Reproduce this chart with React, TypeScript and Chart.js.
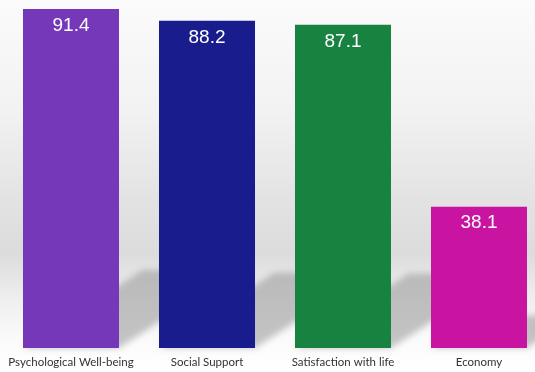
import React, { useEffect, useRef } from "react";
import { Chart, registerables } from "chart.js";

Chart.register(...registerables);

const categories = [
  "Psychological Well-being",
  "Social Support",
  "Satisfaction with life",
  "Economy",
];
const scores = [91.4, 88.2, 87.1, 38.1];
const barColors = ["#7438b8", "#181c8c", "#188240", "#c814a0"];

// Soft studio-style backdrop behind the plot
const backdropPlugin = {
  id: "backdrop",
  beforeDraw(chart: any) {
    const { ctx, width, height } = chart;
    const g = ctx.createLinearGradient(0, 0, 0, height);
    g.addColorStop(0, "#fbfbfb");
    g.addColorStop(0.3, "#f2f2f2");
    g.addColorStop(0.55, "#e2e2e2");
    g.addColorStop(0.68, "#dcdcdc");
    g.addColorStop(0.8, "#eeeeee");
    g.addColorStop(0.92, "#fbfbfb");
    g.addColorStop(1, "#ffffff");
    ctx.save();
    ctx.fillStyle = g;
    ctx.fillRect(0, 0, width, height);
    ctx.restore();
  },
};

// Oblique cast shadow of each bar onto the floor
const castShadowPlugin = {
  id: "castShadow",
  beforeDatasetsDraw(chart: any) {
    const { ctx } = chart;
    const meta = chart.getDatasetMeta(0);
    ctx.save();
    ctx.filter = "blur(3px)";
    ctx.fillStyle = "rgba(150,150,150,0.55)";
    meta.data.forEach((bar: any) => {
      const h = bar.base - bar.y;
      const dy = h * 0.23;
      const dx = dy * 1.53;
      const L = bar.x - bar.width / 2;
      const R = bar.x + bar.width / 2;
      const B = bar.base;
      ctx.beginPath();
      ctx.moveTo(L, B);
      ctx.lineTo(R, B);
      ctx.lineTo(R + dx, B - dy);
      ctx.lineTo(L + dx, B - dy);
      ctx.closePath();
      ctx.fill();
    });
    ctx.restore();
  },
};

// White value labels just inside the top of each bar
const valueLabelPlugin = {
  id: "valueLabels",
  afterDatasetsDraw(chart: any) {
    const { ctx } = chart;
    const meta = chart.getDatasetMeta(0);
    const values = chart.data.datasets[0].data;
    ctx.save();
    ctx.fillStyle = "#ffffff";
    ctx.font = "19px 'Liberation Sans', Arial, sans-serif";
    ctx.textAlign = "center";
    ctx.textBaseline = "middle";
    meta.data.forEach((bar: any, i: number) => {
      ctx.fillText(values[i].toFixed(1), bar.x, bar.y + 16.5);
    });
    ctx.restore();
  },
};

export default function App() {
  const canvasRef = useRef<HTMLCanvasElement | null>(null);

  useEffect(() => {
    if (!canvasRef.current) return;
    const chart = new Chart(canvasRef.current, {
      type: "bar",
      data: {
        labels: categories,
        datasets: [
          {
            data: scores,
            backgroundColor: barColors,
            borderWidth: 0,
            barPercentage: 0.706,
            categoryPercentage: 1,
          },
        ],
      },
      options: {
        animation: false,
        responsive: false,
        maintainAspectRatio: false,
        layout: { padding: { left: 3, right: 13, top: 0, bottom: 0 } },
        plugins: {
          legend: { display: false },
          tooltip: { enabled: false },
        },
        scales: {
          x: {
            grid: { display: false, drawTicks: false },
            border: { display: false },
            ticks: {
              color: "#333333",
              font: { family: "Lato, 'Open Sans', sans-serif", size: 11.5 },
              padding: 7,
              maxRotation: 0,
              autoSkip: false,
            },
            afterFit(scale: any) {
              scale.height = 24;
            },
          },
          y: {
            display: false,
            min: 0,
            max: 93.8,
          },
        },
      },
      plugins: [backdropPlugin, castShadowPlugin, valueLabelPlugin],
    });
    return () => chart.destroy();
  }, []);

  return (
    <div
      style={{
        position: "fixed",
        left: 0,
        top: 0,
        width: 535,
        height: 372,
        overflow: "hidden",
        background: "#ffffff",
      }}
    >
      <canvas ref={canvasRef} width={560} height={372} style={{ display: "block" }} />
    </div>
  );
}
